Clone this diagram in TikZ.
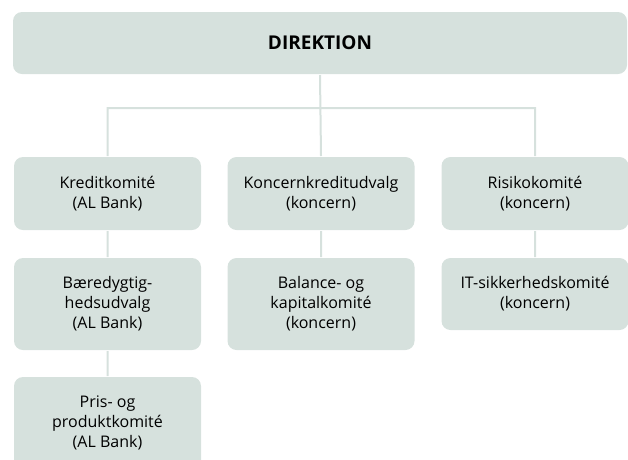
\documentclass[tikz,border=0pt]{standalone}
\usepackage{fontspec}
\setmainfont{Open Sans}
\usepackage{xcolor}
\usetikzlibrary{positioning}
\definecolor{boxgreen}{RGB}{214,225,221}

\begin{document}
\begin{tikzpicture}[x=1pt,y=-1pt,node distance=26pt,line width=2pt]
  \tikzstyle{komite}=[fill=boxgreen, rounded corners=9pt, align=center,
                      minimum width=187pt, inner sep=0pt,
                      font=\fontsize{16}{20}\selectfont]
  \tikzstyle{line}=[draw=boxgreen, line width=2pt]
  \clip (0,0) rectangle (628,459);
  \node[komite, minimum width=614pt, minimum height=62pt,
        font=\fontsize{19}{22}\selectfont\bfseries] (dir) at (320,43) {DIREKTION};
  % top row
  \node[komite, minimum height=73pt] (kredit)  at (107.5,193.5) {Kreditkomité\\(AL Bank)};
  \node[komite, minimum height=73pt] (koncern) at (321,193.5)   {Koncernkreditudvalg\\(koncern)};
  \node[komite, minimum height=73pt] (risiko)  at (535,193.5)   {Risikokomité\\(koncern)};
  % below
  \node[komite, minimum height=92pt] (baer)    [below=of kredit]  {Bæredygtig-\\hedsudvalg\\(AL Bank)};
  \node[komite, minimum height=92pt] (pris)    [below=25pt of baer] {Pris- og\\produktkomité\\(AL Bank)};
  \node[komite, minimum height=92pt] (balance) [below=of koncern] {Balance- og\\kapitalkomité\\(koncern)};
  \node[komite, minimum height=72pt] (it)      [below=of risiko]  {IT-sikkerhedskomité\\(koncern)};
  \coordinate (bar) at (321,108);
  \path[line] (dir.south) -- (koncern.north)
              (kredit.north) |- (bar) -| (risiko.north)
              (kredit) -- (baer)
              (baer) -- (pris)
              (koncern) -- (balance)
              (risiko) -- (it);
\end{tikzpicture}
\end{document}
